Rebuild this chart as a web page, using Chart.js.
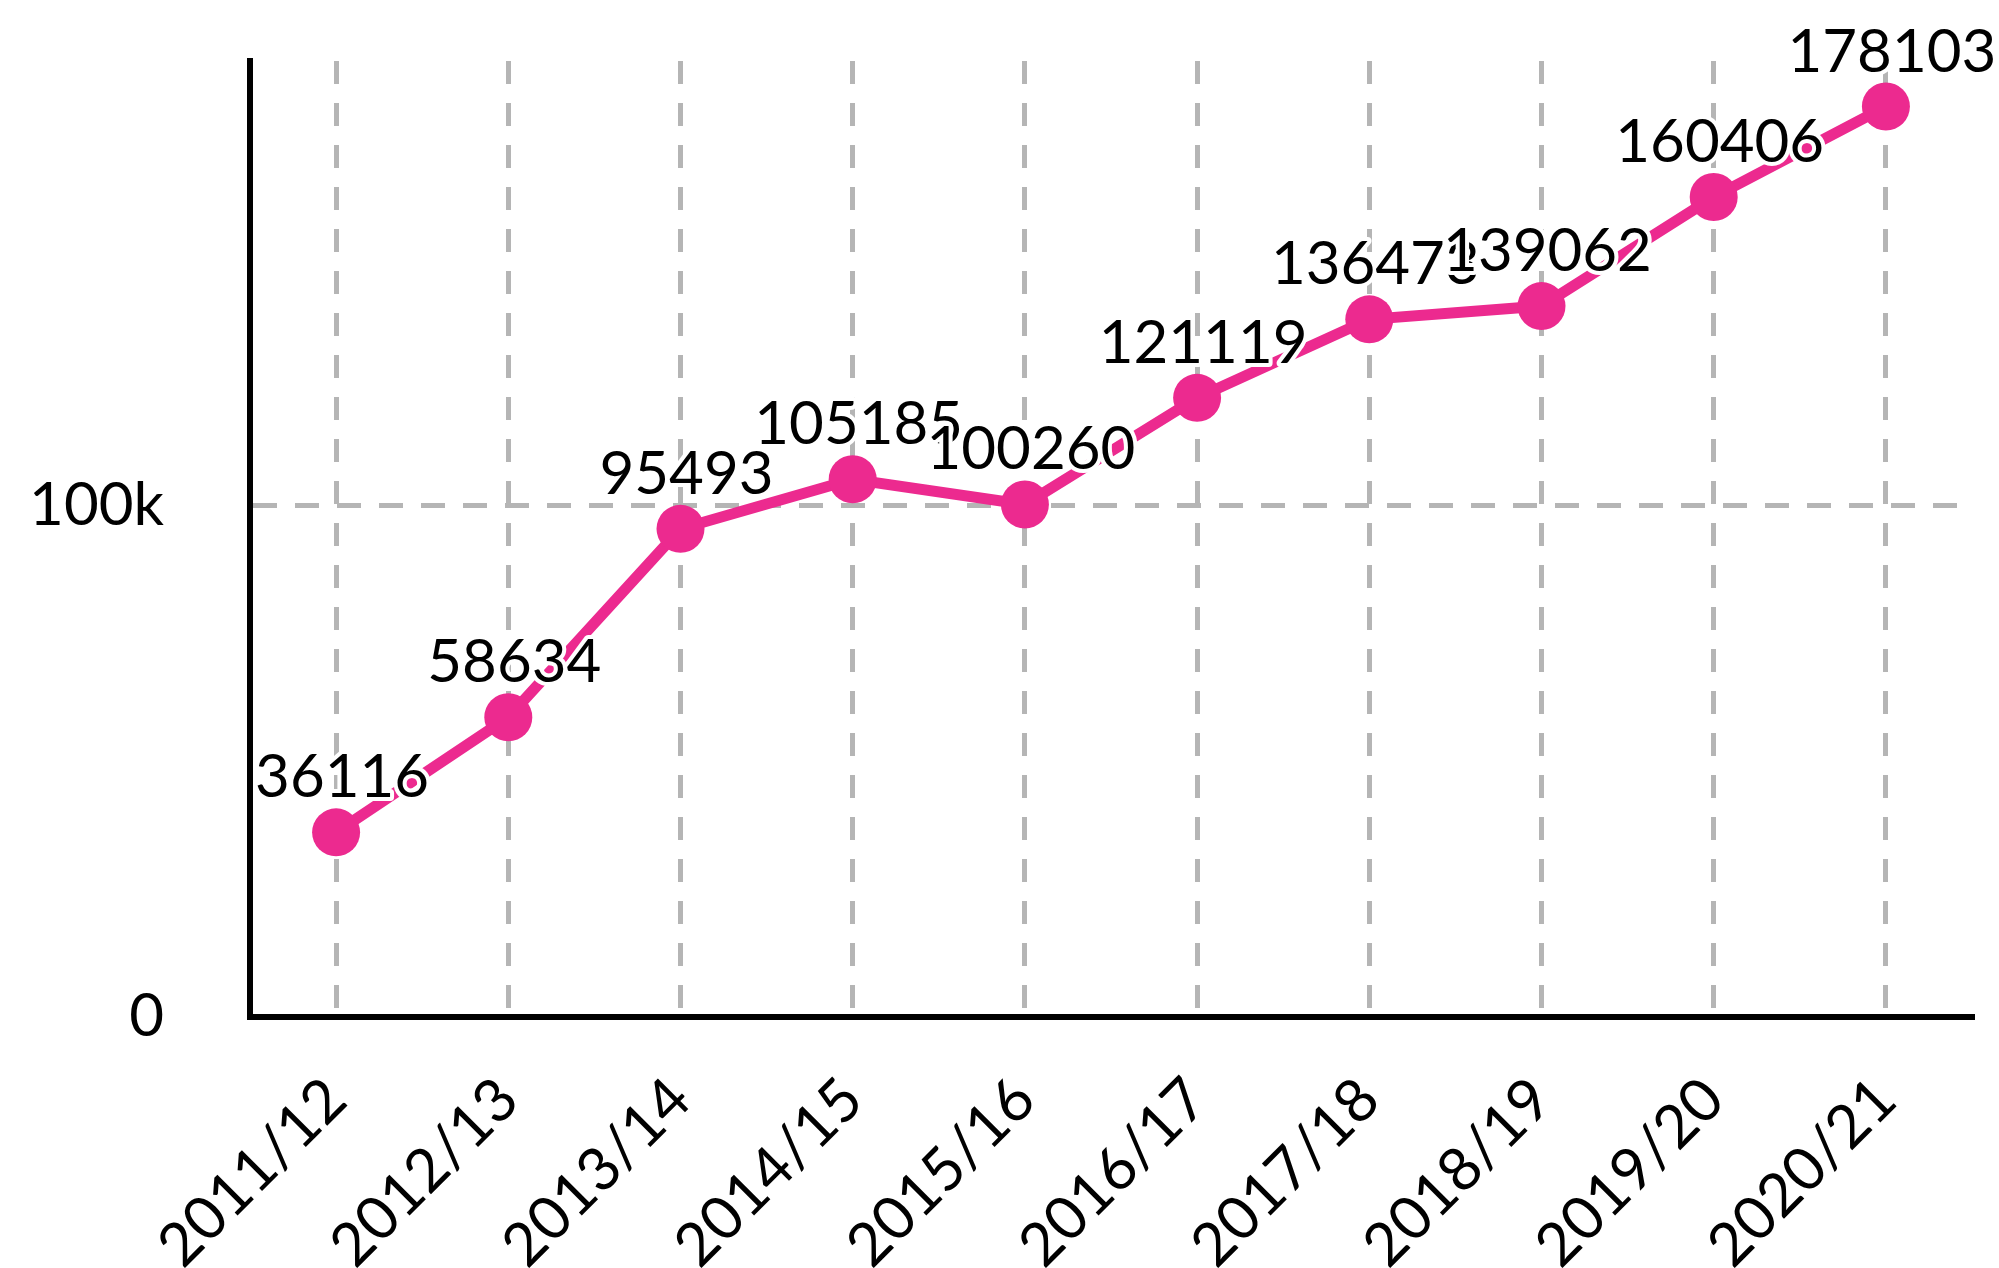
<!DOCTYPE html>
<html>
<head>
<meta charset="utf-8">
<script src="https://cdn.jsdelivr.net/npm/chart.js@4.4.0/dist/chart.umd.min.js"></script>
<style>
html,body{margin:0;padding:0;background:#fff;}
canvas{display:block;}
</style>
</head>
<body>
<canvas id="c" width="1999" height="1268"></canvas>
<script>
const categories = ['2011/12','2012/13','2013/14','2014/15','2015/16','2016/17','2017/18','2018/19','2019/20','2020/21'];
const seriesValues = [36116, 58634, 95493, 105185, 100260, 121119, 136473, 139062, 160406, 178103];
const yTickValues = [0, 100000];
const yTickLabels = ['0', '100k'];
const yMin = 0;
const yMax = 187008;

const PINK = '#ec2a8f';
const GRID = '#b5b5b5';
const FONT = 'Lato';

const valueLabels = {
  id: 'valueLabels',
  afterDatasetsDraw(chart) {
    const ctx = chart.ctx;
    const meta = chart.getDatasetMeta(0);
    ctx.save();
    ctx.font = '60px ' + FONT;
    ctx.textAlign = 'center';
    ctx.textBaseline = 'alphabetic';
    ctx.lineJoin = 'round';
    meta.data.forEach((pt, i) => {
      const txt = String(seriesValues[i]);
      const x = pt.x + 6, y = pt.y - 35;
      ctx.lineWidth = 8;
      ctx.strokeStyle = '#ffffff';
      ctx.strokeText(txt, x, y);
      ctx.fillStyle = '#000000';
      ctx.fillText(txt, x, y);
    });
    ctx.restore();
  }
};

function draw() {
  new Chart(document.getElementById('c'), {
    type: 'line',
    data: {
      labels: categories,
      datasets: [{
        data: seriesValues,
        borderColor: PINK,
        backgroundColor: PINK,
        borderWidth: 11,
        pointRadius: 24,
        pointHoverRadius: 24,
        pointBackgroundColor: PINK,
        pointBorderWidth: 0,
        tension: 0,
        clip: false
      }]
    },
    options: {
      responsive: false,
      devicePixelRatio: 1,
      animation: false,
      events: [],
      layout: { padding: { top: 61, right: 27, left: 0, bottom: 0 } },
      plugins: { legend: { display: false }, tooltip: { enabled: false } },
      scales: {
        x: {
          type: 'category',
          offset: true,
          afterFit(scale) { scale.height = 251; scale.paddingTop = 0; scale.paddingBottom = 0; scale.paddingLeft = 0; scale.paddingRight = 0; },
          grid: { offset: false, color: GRID, lineWidth: 5, drawTicks: false },
          border: { display: true, color: '#000', width: 6, dash: [23, 19] },
          ticks: {
            autoSkip: false, maxRotation: 45, minRotation: 45, padding: 47,
            color: '#000', font: { family: FONT, size: 60 }
          }
        },
        y: {
          min: yMin, max: yMax,
          afterFit(scale) { scale.width = 250; scale.paddingTop = 0; scale.paddingBottom = 0; },
          afterBuildTicks(scale) { scale.ticks = yTickValues.map(v => ({ value: v })); },
          grid: { color: GRID, lineWidth: 5, drawTicks: false },
          border: { display: true, color: '#000', width: 6, dash: [24, 18] },
          ticks: {
            padding: 86, color: '#000', font: { family: FONT, size: 60 },
            callback: (v) => { const i = yTickValues.indexOf(v); return i >= 0 ? yTickLabels[i] : ''; }
          }
        }
      }
    },
    plugins: [valueLabels]
  });
}

if (document.fonts && document.fonts.load) {
  document.fonts.load('60px ' + FONT).then(draw, draw);
} else { draw(); }
</script>
</body>
</html>
